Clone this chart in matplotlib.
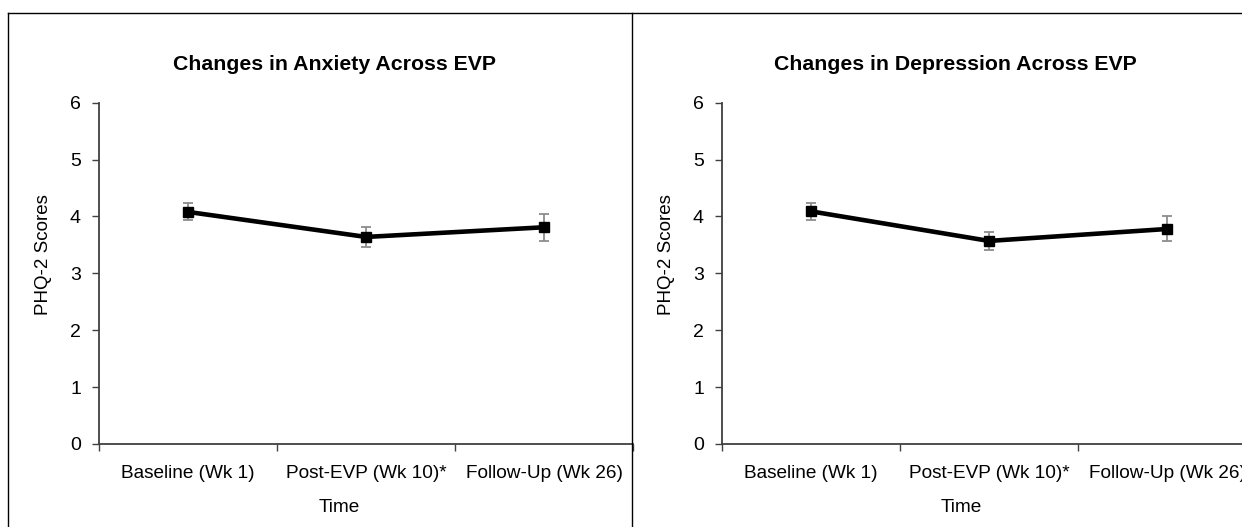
import matplotlib
matplotlib.use('Agg')
import matplotlib.pyplot as plt
from matplotlib.lines import Line2D

plt.rcParams['font.family'] = ['Liberation Sans', 'DejaVu Sans']

categories = ['Baseline (Wk 1)', 'Post-EVP (Wk 10)*', 'Follow-Up (Wk 26)']
anxiety_mean = [4.08, 3.64, 3.81]
anxiety_err = [0.15, 0.17, 0.24]
depression_mean = [4.09, 3.57, 3.78]
depression_err = [0.15, 0.165, 0.22]
titles = ['Changes in Anxiety Across EVP', 'Changes in Depression Across EVP']

W, H = 1242, 527
fig = plt.figure(figsize=(W / 100, H / 100), dpi=100)

def px(x, y):
    return x / W, 1 - y / H

# panel borders
border = dict(color='black', lw=1.0, transform=fig.transFigure)
fig.add_artist(Line2D([8 / W, 1], [1 - 13 / H, 1 - 13 / H], **border))
fig.add_artist(Line2D([8 / W, 8 / W], [0, 1 - 13 / H], **border))
fig.add_artist(Line2D([631.5 / W, 631.5 / W], [0, 1 - 13 / H], **border))

panels = [(99, anxiety_mean, anxiety_err, 335, 339),
          (722, depression_mean, depression_err, 955, 961)]

for i, (left, mean, err, tx, xlx) in enumerate(panels):
    ax = fig.add_axes([left / W, (H - 444) / H, 534 / W, 341.3 / H])
    xs = [0.5, 1.5, 2.5]
    ax.errorbar(xs, mean, yerr=err, fmt='none', ecolor='#8c8c8c',
                elinewidth=1.3, capsize=3.5, capthick=1.3, zorder=2)
    ax.plot(xs, mean, color='black', lw=3.3, marker='s', markersize=7.5,
            zorder=3, clip_on=False)
    ax.set_xlim(0, 3)
    ax.set_ylim(0, 6)
    ax.set_yticks(range(0, 7))
    ax.set_xticks([0, 1, 2, 3])
    ax.set_xticklabels([])
    ax.set_xticks(xs, minor=True)
    ax.set_xticklabels(categories, minor=True)
    ax.tick_params(axis='x', which='minor', length=0, pad=15, labelsize=13.7)
    ax.tick_params(axis='x', which='major', length=5, width=1, color='#404040')
    ax.tick_params(axis='y', length=5, width=1, color='#404040', pad=8,
                   labelsize=14)
    for s in ['top', 'right']:
        ax.spines[s].set_visible(False)
    for s in ['left', 'bottom']:
        ax.spines[s].set_color('#404040')
        ax.spines[s].set_linewidth(1.3)

    x, y = px(tx, 65)
    fig.text(x, y, titles[i], ha='center', va='center', fontsize=15.3,
             fontweight='bold')
    x, y = px(xlx, 507)
    fig.text(x, y, 'Time', ha='center', va='center', fontsize=13.7)
    x, y = px(left - 56, 255)
    fig.text(x, y, 'PHQ-2 Scores', ha='center', va='center', fontsize=13.5,
             rotation=90)

fig.savefig('out.png', dpi=100)
